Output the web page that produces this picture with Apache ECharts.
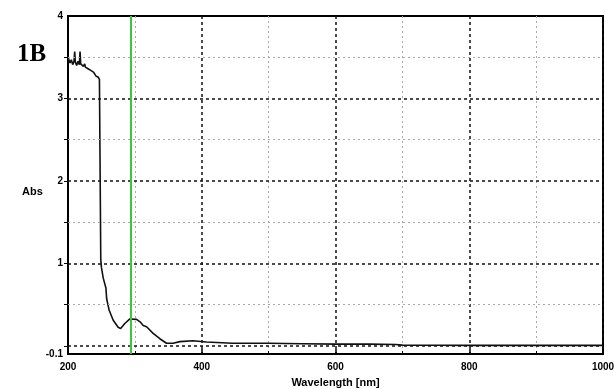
<!DOCTYPE html>
<html>
<head>
	<meta charset="utf-8" />
	<title>1B Abs</title>
	<script type="text/javascript" src="https://cdn.jsdelivr.net/npm/echarts@6/dist/echarts.min.js"></script>
	<style>
		html, body {margin:0;padding:0;background:#fff;}
		#chart {width:614px;height:389px;}
	</style>
</head>
<body>
	<div id="chart"></div>
	<script>
		// spectrum
		var wavelength = [200, 201, 203, 205, 207, 209, 210, 211, 213, 215, 217, 218, 219, 221, 223, 225, 226, 228, 230, 232, 234, 236, 238, 240, 242, 244, 245, 247, 248, 248.5, 249, 250, 252.7, 256.7, 257.8, 261.6, 267.6, 275, 278.7, 285, 292.5, 302.5, 307.8, 312.4, 317.5, 327.3, 337.3, 347.3, 357.2, 367.2, 387, 407, 446, 500, 550, 600, 650, 690, 700, 750, 800, 900, 1000];
		var absorbance = [3.50, 3.48, 3.43, 3.47, 3.41, 3.45, 3.57, 3.44, 3.40, 3.45, 3.41, 3.57, 3.42, 3.44, 3.39, 3.42, 3.38, 3.40, 3.36, 3.38, 3.34, 3.35, 3.32, 3.30, 3.27, 3.25, 3.26, 3.23, 3.23, 1.6, 1.05, 0.95, 0.82, 0.70, 0.57, 0.43, 0.31, 0.225, 0.21, 0.27, 0.325, 0.32, 0.29, 0.245, 0.23, 0.15, 0.085, 0.03, 0.03, 0.05, 0.06, 0.045, 0.03, 0.03, 0.025, 0.02, 0.02, 0.015, 0.008, 0.006, 0.005, 0.005, 0.005];

		var yLabels = [-0.1, 1, 2, 3, 4];
		var yMajor = [0, 1, 2, 3];
		var yMinor = [0.5, 1.5, 2.5, 3.5];
		var markerWavelength = 294;

		var chart = echarts.init(document.getElementById('chart'));

		var points = wavelength.map((w, i) => [w, absorbance[i]]);

		var option = {
			animation: false,
			backgroundColor: '#fff',
			textStyle: {
				fontFamily: 'Liberation Sans'
			},
			grid: {
				left: 68,
				right: 11,
				top: 16,
				bottom: 35,
				outerBoundsMode: 'none',
				containLabel: false,
				show: true,
				borderColor: '#000',
				borderWidth: 2
			},
			graphic: [
				{
					type: 'text',
					left: 17,
					top: 42,
					style: {
						text: '1B',
						font: 'bold 25px "Liberation Serif"',
						fill: '#000'
					}
				},
				{
					type: 'text',
					left: 22,
					top: 186,
					style: {
						text: 'Abs',
						font: 'bold 11px "Liberation Sans"',
						fill: '#000'
					}
				}
			],
			xAxis: {
				type: 'value',
				min: 200,
				max: 1000,
				interval: 200,
				name: 'Wavelength [nm]',
				nameLocation: 'middle',
				nameGap: 23,
				nameTextStyle: {
					fontWeight: 'bold',
					fontSize: 11,
					color: '#000'
				},
				axisLine: {
					onZero: false,
					lineStyle: {color: '#000', width: 2}
				},
				axisTick: {
					inside: true,
					length: 5,
					lineStyle: {color: '#000', width: 1.5}
				},
				minorTick: {
					show: true,
					splitNumber: 2,
					length: 3,
					lineStyle: {color: '#000', width: 1}
				},
				axisLabel: {
					fontWeight: 'bold',
					fontSize: 10,
					color: '#000',
					margin: 8,
					showMaxLabel: true,
					formatter: v => String(v)
				},
				splitLine: {
					show: true,
					lineStyle: {color: '#111', width: 1.5, type: [3, 3]}
				},
				minorSplitLine: {
					show: true,
					lineStyle: {color: '#aaa', width: 1, type: [2, 3]}
				}
			},
			yAxis: {
				type: 'value',
				min: -0.1,
				max: 4,
				axisLine: {
					show: true,
					lineStyle: {color: '#000', width: 2}
				},
				axisTick: {
					show: true,
					length: 4,
					customValues: yMajor.concat(yMinor),
					lineStyle: {color: '#000', width: 1}
				},
				axisLabel: {
					fontWeight: 'bold',
					fontSize: 10,
					color: '#000',
					margin: 5,
					customValues: yLabels
				},
				splitLine: {show: false}
			},
			series: [
				{
					// horizontal grid lines
					type: 'line',
					data: [],
					z: 1,
					silent: true,
					markLine: {
						silent: true,
						symbol: 'none',
						label: {show: false},
						animation: false,
						data: yMinor.map(v => ({yAxis: v, lineStyle: {color: '#aaa', width: 1, type: [2, 3]}}))
							.concat(yMajor.map(v => ({yAxis: v, lineStyle: {color: '#111', width: 1.5, type: [3, 3]}})))
					}
				},
				{
					name: 'Abs',
					type: 'line',
					data: points,
					showSymbol: false,
					z: 3,
					lineStyle: {color: '#111', width: 1.6},
					markLine: {
						silent: true,
						symbol: 'none',
						label: {show: false},
						animation: false,
						lineStyle: {color: '#3ec43e', width: 2, type: 'solid'},
						data: [{xAxis: markerWavelength}]
					}
				}
			]
		};

		chart.setOption(option);
	</script>
</body>
</html>
